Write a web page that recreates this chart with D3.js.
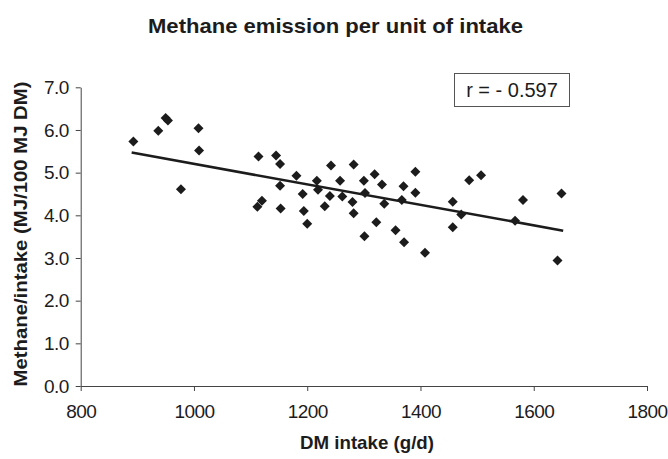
<!DOCTYPE html>
<html>
<head>
<meta charset="utf-8">
<script src="https://cdn.jsdelivr.net/npm/d3@7"></script>
<style>
  html, body { margin: 0; padding: 0; background: #fff; }
  svg { display: block; font-family: "Liberation Sans", Arial, sans-serif; }
</style>
</head>
<body>
<svg id="chart" width="668" height="459"></svg>
<script>
// DM intake (g/d) for each animal
const dmIntake = [
  893, 937, 950, 954, 977, 1008, 1009,
  1114, 1145, 1152, 1181, 1152, 1217, 1219, 1192, 1120, 1112, 1153, 1194, 1200,
  1231, 1242, 1282, 1258, 1240, 1262, 1300, 1319, 1332, 1302, 1280, 1282,
  1336, 1322, 1301, 1356, 1371, 1367, 1370, 1391, 1391, 1408,
  1457, 1457, 1472, 1486, 1507, 1567, 1581, 1649, 1642
];
// Methane per unit of intake (MJ/100 MJ DM)
const methanePerIntake = [
  5.73, 5.98, 6.28, 6.22, 4.61, 6.04, 5.52,
  5.38, 5.40, 5.20, 4.93, 4.69, 4.81, 4.60, 4.50, 4.34, 4.20, 4.16, 4.10, 3.80,
  4.21, 5.17, 5.19, 4.81, 4.45, 4.44, 4.81, 4.96, 4.72, 4.52, 4.31, 4.05,
  4.27, 3.84, 3.51, 3.65, 3.37, 4.36, 4.68, 5.02, 4.53, 3.12,
  4.32, 3.72, 4.02, 4.82, 4.94, 3.87, 4.36, 4.51, 2.94
];
// Linear trend line end points
const trendX = [890, 1652];
const trendY = [5.47, 3.64];

const xTicks = [800, 1000, 1200, 1400, 1600, 1800];
const yTicks = [0, 1, 2, 3, 4, 5, 6, 7];

const titleText = "Methane emission per unit of intake";
const xLabel = "DM intake (g/d)";
const yLabel = "Methane/intake (MJ/100 MJ DM)";
const rLabel = "r = - 0.597";

const svg = d3.select("#chart");
const ink = "#1c1c1c";

const x = d3.scaleLinear().domain([800, 1800]).range([80.7, 647]);
const y = d3.scaleLinear().domain([0, 7]).range([386, 87.3]);

// Title
svg.append("text")
  .attr("x", 335.5).attr("y", 33)
  .attr("text-anchor", "middle")
  .attr("font-size", 21).attr("font-weight", "bold")
  .attr("fill", ink)
  .attr("textLength", 375).attr("lengthAdjust", "spacingAndGlyphs")
  .text(titleText);

// Axes
const xAxis = svg.append("g")
  .attr("transform", `translate(0,${y(0)})`)
  .call(d3.axisBottom(x).tickValues(xTicks).tickFormat(d3.format("d"))
    .tickSize(5).tickSizeOuter(0).tickPadding(14));

const yAxis = svg.append("g")
  .attr("transform", `translate(${x(800)},0)`)
  .call(d3.axisLeft(y).tickValues(yTicks).tickFormat(d3.format(".1f"))
    .tickSize(5).tickSizeOuter(0).tickPadding(7));

[xAxis, yAxis].forEach(g => {
  g.select(".domain").attr("stroke", "#444").attr("stroke-width", 1);
  g.selectAll(".tick line").attr("stroke", "#444");
  g.selectAll(".tick text")
    .attr("fill", ink)
    .attr("font-size", 19)
    .attr("font-family", "\"Liberation Sans\", Arial, sans-serif")
    .attr("letter-spacing", -0.6);
});

// Axis titles
svg.append("text")
  .attr("x", 367).attr("y", 449)
  .attr("text-anchor", "middle")
  .attr("font-size", 19).attr("font-weight", "bold")
  .attr("fill", ink)
  .attr("textLength", 134).attr("lengthAdjust", "spacingAndGlyphs")
  .text(xLabel);

svg.append("text")
  .attr("transform", "translate(27,234) rotate(-90)")
  .attr("text-anchor", "middle")
  .attr("font-size", 19).attr("font-weight", "bold")
  .attr("fill", ink)
  .attr("textLength", 305).attr("lengthAdjust", "spacingAndGlyphs")
  .text(yLabel);

// Trend line
const line = d3.line().x(d => x(d[0])).y(d => y(d[1]));
svg.append("path")
  .datum(d3.zip(trendX, trendY))
  .attr("d", line)
  .attr("fill", "none")
  .attr("stroke", ink)
  .attr("stroke-width", 2.6);

// Diamond markers
const diamond = d3.symbol().type(d3.symbolSquare).size(50);
svg.append("g")
  .selectAll("path")
  .data(d3.zip(dmIntake, methanePerIntake))
  .join("path")
  .attr("d", diamond)
  .attr("transform", d => `translate(${x(d[0])},${y(d[1])}) rotate(45)`)
  .attr("fill", ink);

// Correlation box
const box = svg.append("g");
box.append("rect")
  .attr("x", 454.5).attr("y", 73.5)
  .attr("width", 115).attr("height", 33)
  .attr("fill", "#fff")
  .attr("stroke", "#555").attr("stroke-width", 1);
box.append("text")
  .attr("x", 512).attr("y", 97)
  .attr("text-anchor", "middle")
  .attr("font-size", 20)
  .attr("fill", ink)
  .text(rLabel);
</script>
</body>
</html>
